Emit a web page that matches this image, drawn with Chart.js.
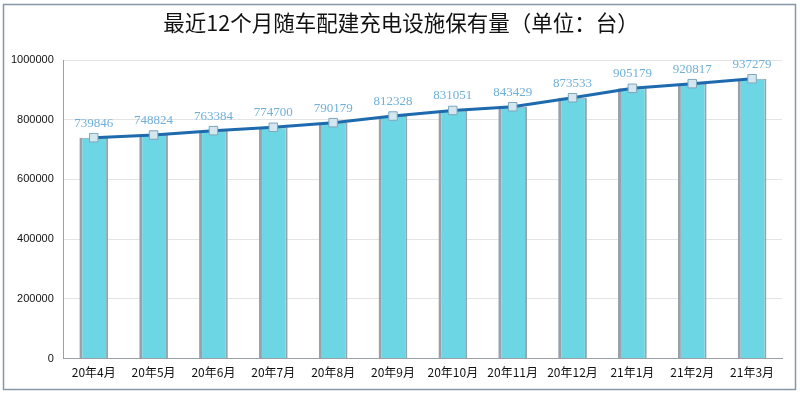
<!DOCTYPE html>
<html>
<head>
<meta charset="utf-8">
<script src="https://cdn.jsdelivr.net/npm/chart.js@4"></script>
<style>
  html, body { margin: 0; padding: 0; background: #fff; }
  #wrap { width: 800px; height: 393px; }
</style>
</head>
<body>
<div id="wrap"><canvas id="grafico" width="800" height="393"></canvas></div>
<script>
const meses = ["20年4月", "20年5月", "20年6月", "20年7月", "20年8月", "20年9月",
  "20年10月", "20年11月", "20年12月", "21年1月", "21年2月", "21年3月"]
const valores = [739846, 748824, 763384, 774700, 790179, 812328,
  831051, 843429, 873533, 905179, 920817, 937279]
const ticksY = [0, 200000, 400000, 600000, 800000, 1000000]
const titulo = "最近12个月随车配建充电设施保有量（单位：台）"

// moldura externa e titulo centralizado na pagina
const moldura = {
  id: "moldura",
  beforeDraw(chart) {
    const ctx = chart.ctx
    ctx.save()
    ctx.fillStyle = "#fff"
    ctx.fillRect(0, 0, chart.width, chart.height)
    ctx.strokeStyle = "#8797aa"
    ctx.lineWidth = 1.5
    ctx.strokeRect(3.5, 4.5, 792, 385)
    ctx.font = "21.5px 'Noto Sans CJK SC'"
    ctx.fillStyle = "#111"
    ctx.textAlign = "center"
    ctx.textBaseline = "middle"
    ctx.fillText(titulo, 401, 23)
    ctx.restore()
  }
}

// rotulos dos valores acima dos pontos
const rotulos = {
  id: "rotulos",
  afterDatasetsDraw(chart) {
    const ctx = chart.ctx
    const meta = chart.getDatasetMeta(0)
    ctx.save()
    ctx.font = "13px 'Liberation Serif'"
    ctx.fillStyle = "#6fb0d8"
    ctx.textAlign = "center"
    ctx.textBaseline = "bottom"
    meta.data.forEach((p, i) => {
      ctx.fillText(valores[i], p.x, p.y - 8)
    })
    ctx.restore()
  }
}

new Chart(document.getElementById("grafico"), {
  data: {
    labels: meses,
    datasets: [{
      type: "line",
      data: valores,
      borderColor: "#1e6aae",
      borderWidth: 3,
      tension: 0,
      pointStyle: "rect",
      pointRadius: 6,
      pointBackgroundColor: "#d4e6ee",
      pointBorderColor: "#7ea6bd",
      pointBorderWidth: 1,
      order: 0
    }, {
      type: "bar",
      data: valores,
      backgroundColor: "#6dd6e4",
      borderColor: "#98a2ac",
      borderWidth: { left: 3, right: 2, top: 1, bottom: 0 },
      borderSkipped: false,
      barPercentage: 0.48,
      categoryPercentage: 1,
      order: 1
    }]
  },
  options: {
    responsive: false,
    animation: false,
    layout: { padding: { left: 1, right: 18, top: 60, bottom: 6 } },
    plugins: {
      legend: { display: false },
      tooltip: { enabled: false },
      title: { display: false }
    },
    scales: {
      x: {
        grid: { display: false, drawTicks: false },
        border: { color: "#9aa0a6" },
        ticks: {
          color: "#111",
          font: { family: "'Noto Sans CJK SC'", size: 12 },
          padding: 7,
          maxRotation: 0,
          autoSkip: false
        }
      },
      y: {
        min: 0,
        max: 1000000,
        afterBuildTicks(axis) {
          axis.ticks = ticksY.map(v => ({ value: v }))
        },
        grid: { color: "#e4e4e4", drawTicks: false },
        border: { color: "#9aa0a6" },
        ticks: {
          color: "#111",
          font: { family: "'Liberation Sans'", size: 11 },
          padding: 10,
          callback: v => String(v)
        }
      }
    }
  },
  plugins: [moldura, rotulos]
})
</script>
</body>
</html>
